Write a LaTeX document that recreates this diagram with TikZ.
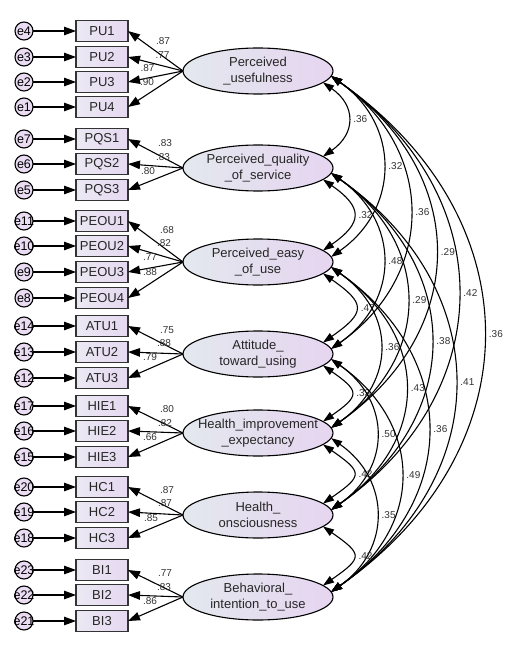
\documentclass[tikz,border=0pt]{standalone}
\usepackage{fontspec}
\setmainfont{Liberation Sans}
\usetikzlibrary{arrows.meta,shapes.geometric}
\definecolor{latL}{HTML}{E3E8EE}
\definecolor{latR}{HTML}{E6D5F0}
\definecolor{obsL}{HTML}{ECE8F3}
\definecolor{obsR}{HTML}{E5D9F1}
\definecolor{errC}{HTML}{EADDF3}
\newcommand\covarc[5]{\draw[cov] (#1.-#3) .. controls +(#4,0.7*#4) and +(#4,-0.7*#4) .. (#2.#3) node[covlbl] {#5};}
\begin{document}
\begin{tikzpicture}[x=1pt,y=-1pt,
  lat/.style={ellipse, draw=black, line width=1.1pt, minimum width=150pt, minimum height=46pt, inner sep=0pt, outer sep=0pt, left color=latL, right color=latR},
  latlbl/.style={align=center, inner sep=0pt, font=\fontsize{13}{16.5}\selectfont, text=black!85},
  obs/.style={rectangle, draw=black!80, line width=1.3pt, minimum width=52pt, minimum height=21pt, inner sep=0pt, outer sep=0pt, left color=obsL, right color=obsR, font=\fontsize{13}{15}\selectfont, text=black!85},
  err/.style={circle, draw=black, line width=1.1pt, minimum size=18pt, inner sep=0pt, outer sep=0pt, fill=errC, font=\fontsize{12.5}{14}\selectfont},
  ar/.style={line width=1.1pt, -{Triangle[length=12pt,width=8.5pt]}},
  cov/.style={line width=1.1pt, {Triangle[length=11pt,width=7.5pt]}-{Triangle[length=11pt,width=7.5pt]}},
  lbl/.style={font=\fontsize{10}{12}\selectfont, inner sep=0pt, text=black!80},
  covlbl/.style={lbl, pos=0.5, anchor=west, xshift=5pt}
]
\useasboundingbox (0,0) rectangle (525,647);
\fill[white] (0,0) rectangle (525,647);

% latent variables
\node[lat, label={[latlbl]center:{Perceived\\\_usefulness}}] (PU) at (258,71) {};
\node[lat, label={[latlbl]center:{Perceived\_quality\\\_of\_service}}] (PQS) at (258,168) {};
\node[lat, label={[latlbl]center:{Perceived\_easy\\\_of\_use}}] (PEOU) at (258,262) {};
\node[lat, label={[latlbl]center:{Attitude\_\\toward\_using}}] (ATU) at (258,354) {};
\node[lat, label={[latlbl]center:{Health\_improvement\\\_expectancy}}] (HIE) at (258,433) {};
\node[lat, label={[latlbl]center:{Health\_\\onsciousness}}] (HC) at (258,515) {};
\node[lat, label={[latlbl]center:{Behavioral\_\\intention\_to\_use}}] (BI) at (258,597) {};

% observed variables and errors
\foreach \n/\e/\y in {PU1/e4/31,PU2/e3/57,PU3/e2/82,PU4/e1/107,
  PQS1/e7/139,PQS2/e6/164,PQS3/e5/190,
  PEOU1/e11/221,PEOU2/e10/246,PEOU3/e9/272,PEOU4/e8/298,
  ATU1/e14/326,ATU2/e13/352,ATU3/e12/378,
  HIE1/e17/406,HIE2/e16/431,HIE3/e15/457,
  HC1/e20/487,HC2/e19/512,HC3/e18/538,
  BI1/e23/570,BI2/e22/595,BI3/e21/621}{
  \node[obs] (\n) at (102,\y) {\n};
  \node[err] (\e) at (24,\y) {\makebox[0pt]{\e}};
  \draw[ar] (\e) -- (\n);
}

% loadings
\foreach \f/\o in {PU/PU1,PU/PU2,PU/PU3,PU/PU4,PQS/PQS1,PQS/PQS2,PQS/PQS3,
  PEOU/PEOU1,PEOU/PEOU2,PEOU/PEOU3,PEOU/PEOU4,ATU/ATU1,ATU/ATU2,ATU/ATU3,
  HIE/HIE1,HIE/HIE2,HIE/HIE3,HC/HC1,HC/HC2,HC/HC3,BI/BI1,BI/BI2,BI/BI3}{
  \draw[ar] (\f.west) -- (\o.east);
}

% loading labels
\foreach \t/\x/\y in {.87/163/41,.77/162.5/55,.87/147.5/68,.90/147/82,
  .83/165/143,.83/163/157,.80/148/171,
  .68/167/230,.82/164/243,.77/150/257,.88/150/272,
  .75/167/330,.88/164/343,.79/150/357,
  .80/167/409,.82/165/423,.66/150/437,
  .87/167/490,.87/165/503,.85/151/518,
  .77/165/573,.83/164/587,.86/150/601}{
  \node[lbl] at (\x,\y) {\t};
}

% covariances
\covarc{PU}{PQS}{10}{33}{.36}
\covarc{PU}{PEOU}{4}{69}{.32}
\covarc{PU}{ATU}{4}{105}{.36}
\covarc{PU}{HIE}{4}{139}{.29}
\covarc{PU}{HC}{4}{169}{.42}
\covarc{PU}{BI}{4}{203}{.36}
\covarc{PQS}{PEOU}{10}{40}{.32}
\covarc{PQS}{ATU}{4}{69}{.48}
\covarc{PQS}{HIE}{4}{101}{.29}
\covarc{PQS}{HC}{4}{133}{.38}
\covarc{PQS}{BI}{4}{165}{.41}
\covarc{PEOU}{ATU}{10}{43}{.47}
\covarc{PEOU}{HIE}{4}{65}{.36}
\covarc{PEOU}{HC}{4}{99}{.43}
\covarc{PEOU}{BI}{4}{129}{.36}
\covarc{ATU}{HIE}{10}{37}{.33}
\covarc{ATU}{HC}{4}{60}{.50}
\covarc{ATU}{BI}{4}{93}{.49}
\covarc{HIE}{HC}{10}{40}{.42}
\covarc{HIE}{BI}{4}{60}{.35}
\covarc{HC}{BI}{10}{40}{.42}
\end{tikzpicture}
\end{document}
